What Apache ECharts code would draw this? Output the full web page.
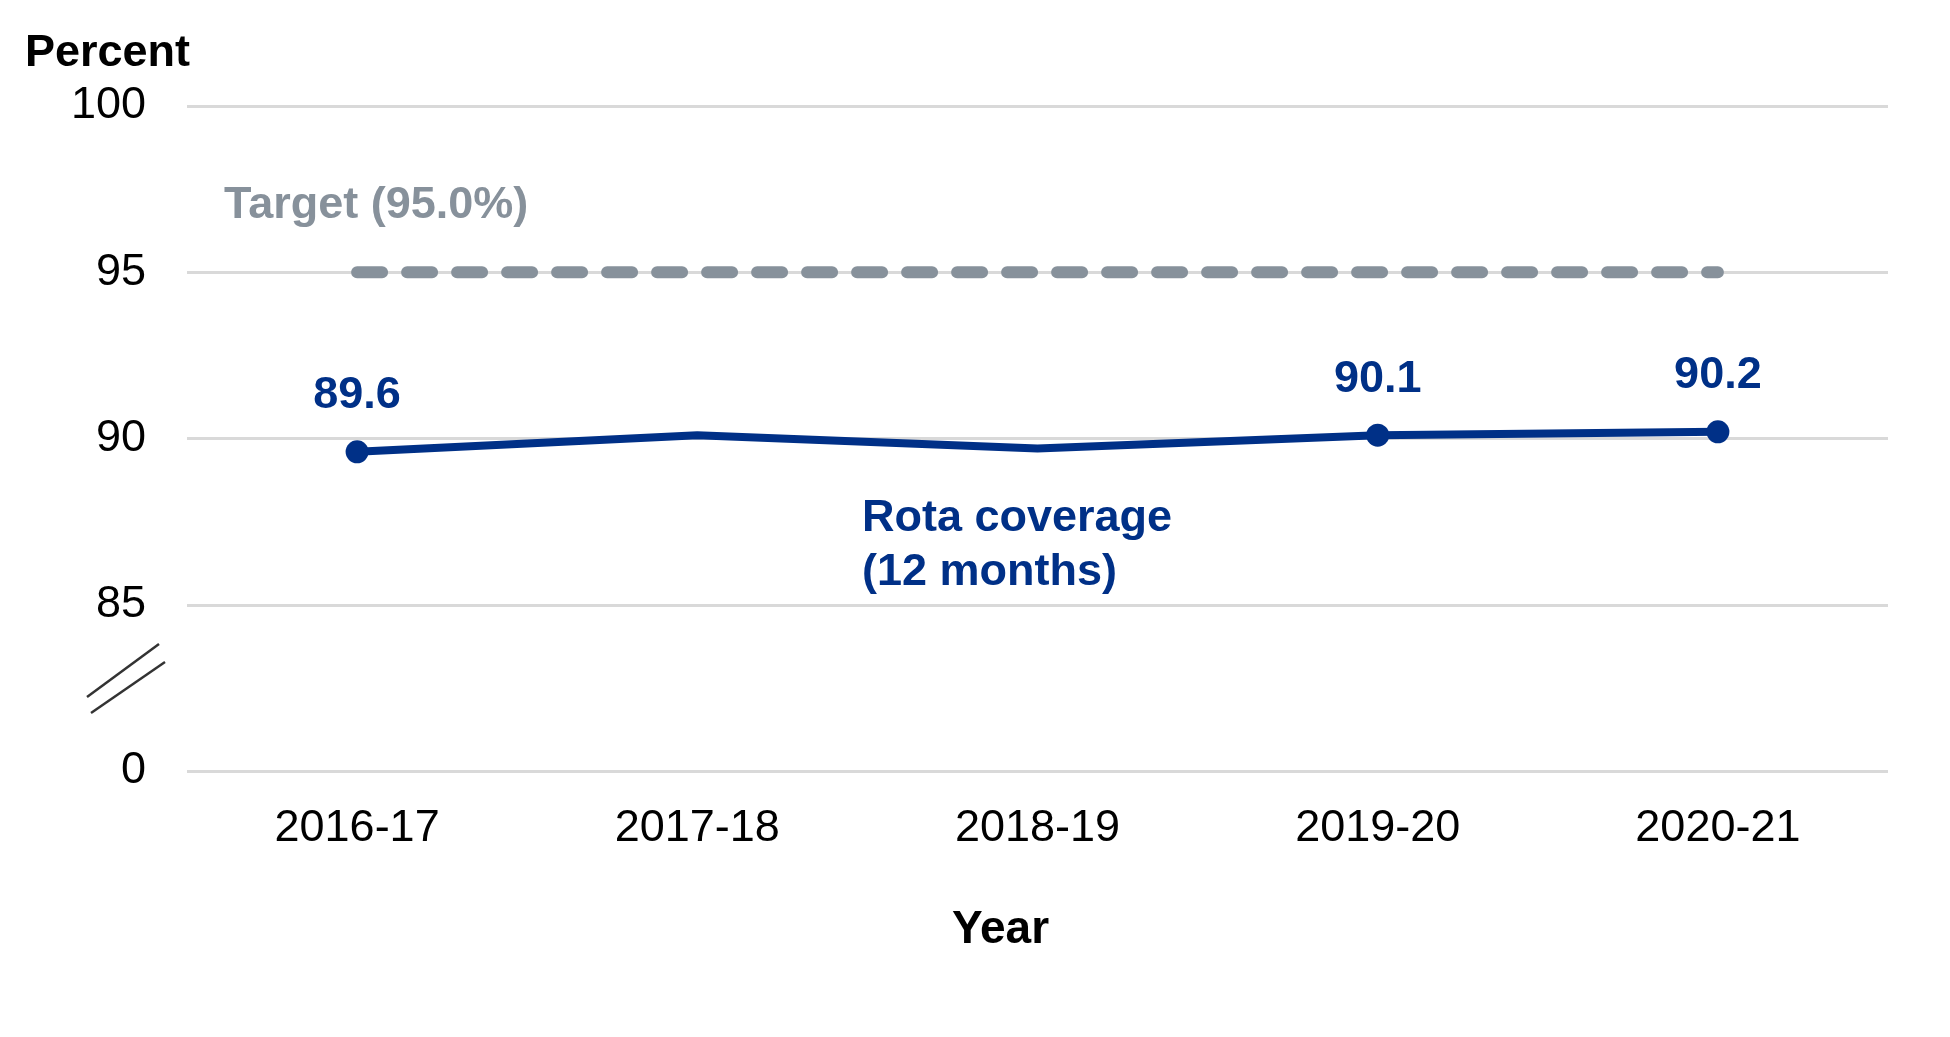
<!DOCTYPE html>
<html>
<head>
<meta charset="utf-8">
<title>Rota coverage</title>
<script src="https://cdn.jsdelivr.net/npm/echarts@6/dist/echarts.min.js"></script>
<style>
    html, body { margin: 0; padding: 0; background: #fff; }
    #chart { width: 1950px; height: 1037px; }
</style>
</head>
<body>
<div id="chart"></div>
<script>
"use strict";

// data
var years    = ['2016-17', '2017-18', '2018-19', '2019-20', '2020-21'];
var coverage = [89.6, 90.1, 89.7, 90.1, 90.2];
var target   = [95, 95, 95, 95, 95];
var labelled = [true, false, false, true, true];   // points with a dot and value label
var yTicks   = [80, 85, 90, 95, 100];               // 80 stands for the broken "0"

var NAVY = '#003087';
var GREY = '#87919b';
var FONT = '"Liberation Sans", Arial, sans-serif';

var chart = echarts.init(document.getElementById('chart'));

var coverageData = coverage.map(function (v, i) {
    return {
        value: v,
        symbolSize: labelled[i] ? 23 : 0,
        label: { show: labelled[i] }
    };
});

var option = {
    animation: false,
    textStyle: { fontFamily: FONT },
    grid: { left: 187, right: 62, top: 106, bottom: 266 },
    xAxis: {
        type: 'category',
        data: years,
        axisLine: { show: false },
        axisTick: { show: false },
        axisLabel: { color: '#000', fontSize: 45, margin: 35 },
        name: 'Year',
        nameLocation: 'middle',
        nameGap: 136,
        nameTextStyle: { color: '#000', fontSize: 46, fontWeight: 'bold', padding: [0, 74, 0, 0] }
    },
    yAxis: {
        type: 'value',
        min: yTicks[0],
        max: yTicks[yTicks.length - 1],
        interval: 5,
        axisLine: { show: false },
        axisTick: { show: false },
        splitLine: { lineStyle: { color: '#d9d9d9', width: 3 } },
        axisLabel: {
            color: '#000', fontSize: 45, margin: 41,
            formatter: function (v) { return v === yTicks[0] ? '0' : String(v); }
        },
        name: 'Percent',
        nameLocation: 'end',
        nameGap: 52,
        nameTextStyle: { color: '#000', fontSize: 45, fontWeight: 'bold', align: 'right', verticalAlign: 'middle', padding: [0, -3, 0, 0] }
    },
    series: [
        {
            name: 'Target',
            type: 'line',
            data: target,
            symbol: 'none',
            silent: true,
            lineStyle: { color: GREY, width: 12, type: [25, 25], cap: 'round' },
            z: 2
        },
        {
            name: 'Rota coverage',
            type: 'line',
            data: coverageData,
            symbol: 'circle',
            itemStyle: { color: NAVY },
            lineStyle: { color: NAVY, width: 8 },
            label: {
                position: 'top',
                distance: 22,
                color: NAVY,
                fontSize: 45,
                fontWeight: 'bold',
                formatter: function (p) { return p.value.toFixed(1); }
            },
            z: 3
        }
    ],
    graphic: [
        {
            type: 'text', left: 224, top: 183,
            style: { text: 'Target (95.0%)', fill: GREY, font: 'bold 45px ' + FONT }
        },
        {
            type: 'text', left: 862, top: 492,
            style: { text: 'Rota coverage\n(12 months)', fill: NAVY, font: 'bold 45px ' + FONT, lineHeight: 54 }
        },
        // axis break marks
        {
            type: 'line', shape: { x1: 87, y1: 697, x2: 159, y2: 644 },
            style: { stroke: '#333', lineWidth: 2.5 }
        },
        {
            type: 'line', shape: { x1: 91, y1: 713, x2: 165, y2: 662 },
            style: { stroke: '#333', lineWidth: 2.5 }
        }
    ]
};

chart.setOption(option, true);
</script>
</body>
</html>
